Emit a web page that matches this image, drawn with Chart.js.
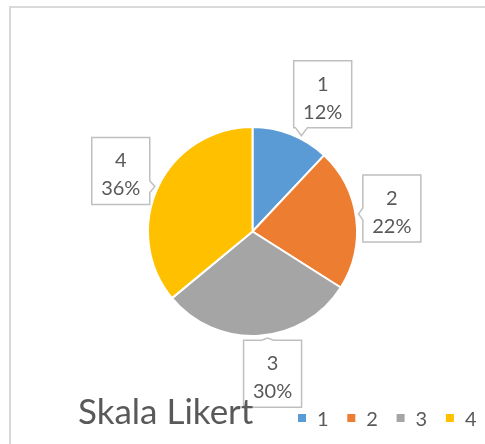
<!DOCTYPE html>
<html>
<head>
<meta charset="utf-8">
<script src="https://cdn.jsdelivr.net/npm/chart.js@4.4.0/dist/chart.umd.min.js"></script>
<style>
  html, body { margin: 0; padding: 0; background: #fff; }
  canvas { display: block; }
</style>
</head>
<body>
<canvas id="chart" width="485" height="444"></canvas>
<script>
const labels = ['1', '2', '3', '4'];
const values = [12, 22, 30, 36];
const colors = ['#5B9BD5', '#ED7D31', '#A5A5A5', '#FFC000'];
const chartTitle = 'Skala Likert';

// small hand nudges for the callout boxes (Excel "best fit" placement)
const calloutNudge = [[17, -3], [-4, -5], [11, -2], [-1, 1]];

const textColor = '#595959';
const fontFamily = 'Lato, "Open Sans", sans-serif';

function calloutPath(ctx, x, y, w, h, tx, ty) {
  const cx = x + w / 2, cy = y + h / 2;
  const dx = tx - cx, dy = ty - cy;
  const horiz = Math.abs(dx) / (w / 2) > Math.abs(dy) / (h / 2);
  const half = 6;
  const clamp = (v, a, b) => Math.max(a, Math.min(b, v));
  const bx = clamp(tx, x + half + 1, x + w - half - 1);
  const by = clamp(ty, y + half + 1, y + h - half - 1);

  ctx.beginPath();
  ctx.moveTo(x, y);
  if (!horiz && dy < 0) {
    ctx.lineTo(bx - half, y); ctx.lineTo(tx, ty); ctx.lineTo(bx + half, y);
  }
  ctx.lineTo(x + w, y);
  if (horiz && dx > 0) {
    ctx.lineTo(x + w, by - half); ctx.lineTo(tx, ty); ctx.lineTo(x + w, by + half);
  }
  ctx.lineTo(x + w, y + h);
  if (!horiz && dy > 0) {
    ctx.lineTo(bx + half, y + h); ctx.lineTo(tx, ty); ctx.lineTo(bx - half, y + h);
  }
  ctx.lineTo(x, y + h);
  if (horiz && dx < 0) {
    ctx.lineTo(x, by + half); ctx.lineTo(tx, ty); ctx.lineTo(x, by - half);
  }
  ctx.closePath();
}

const decorations = {
  id: 'decorations',
  beforeDraw(chart) {
    const ctx = chart.ctx;
    ctx.save();
    ctx.fillStyle = '#fff';
    ctx.fillRect(0, 0, chart.width, chart.height);
    ctx.strokeStyle = '#D9D9D9';
    ctx.lineWidth = 2;
    ctx.strokeRect(10, 7, 600, 600);
    ctx.restore();
  },
  afterDraw(chart) {
    const ctx = chart.ctx;
    const arcs = chart.getDatasetMeta(0).data;
    const total = values.reduce((a, b) => a + b, 0);
    const boxW = 58, boxH = 67;

    ctx.save();
    arcs.forEach((arc, i) => {
      const { x, y, startAngle, endAngle, outerRadius } = arc.getProps(['x', 'y', 'startAngle', 'endAngle', 'outerRadius'], true);
      const mid = (startAngle + endAngle) / 2;
      const dist = outerRadius + 40;
      const bcx = x + Math.cos(mid) * dist + calloutNudge[i][0];
      const bcy = y + Math.sin(mid) * dist + calloutNudge[i][1];
      const ang = Math.atan2(bcy - y, bcx - x);
      const tx = x + Math.cos(ang) * (outerRadius + 3);
      const ty = y + Math.sin(ang) * (outerRadius + 3);
      const bx = bcx - boxW / 2, by = bcy - boxH / 2;

      calloutPath(ctx, bx, by, boxW, boxH, tx, ty);
      ctx.fillStyle = '#fff';
      ctx.fill();
      ctx.strokeStyle = '#BFBFBF';
      ctx.lineWidth = 1.5;
      ctx.stroke();

      ctx.fillStyle = textColor;
      ctx.font = '20px ' + fontFamily;
      ctx.textAlign = 'center';
      ctx.textBaseline = 'alphabetic';
      ctx.fillText(labels[i], bcx, by + 30);
      ctx.fillText(Math.round(values[i] / total * 100) + '%', bcx, by + 58);
    });

    // title
    ctx.fillStyle = textColor;
    ctx.font = '35px ' + fontFamily;
    ctx.textAlign = 'left';
    ctx.textBaseline = 'alphabetic';
    ctx.fillText(chartTitle, 78, 424);

    // legend
    ctx.font = '20px ' + fontFamily;
    labels.forEach((lab, i) => {
      const lx = 298 + i * 49.3;
      ctx.fillStyle = colors[i];
      ctx.fillRect(lx, 414, 8, 8);
      ctx.fillStyle = textColor;
      ctx.fillText(lab, lx + 19, 426);
    });
    ctx.restore();
  }
};

new Chart(document.getElementById('chart'), {
  type: 'pie',
  data: {
    labels: labels,
    datasets: [{
      data: values,
      backgroundColor: colors,
      borderColor: '#fff',
      borderWidth: 2
    }]
  },
  options: {
    responsive: false,
    animation: false,
    layout: { padding: { left: 147, right: 127, top: 126, bottom: 107 } },
    plugins: {
      legend: { display: false },
      title: { display: false },
      tooltip: { enabled: false }
    }
  },
  plugins: [decorations]
});
</script>
</body>
</html>
